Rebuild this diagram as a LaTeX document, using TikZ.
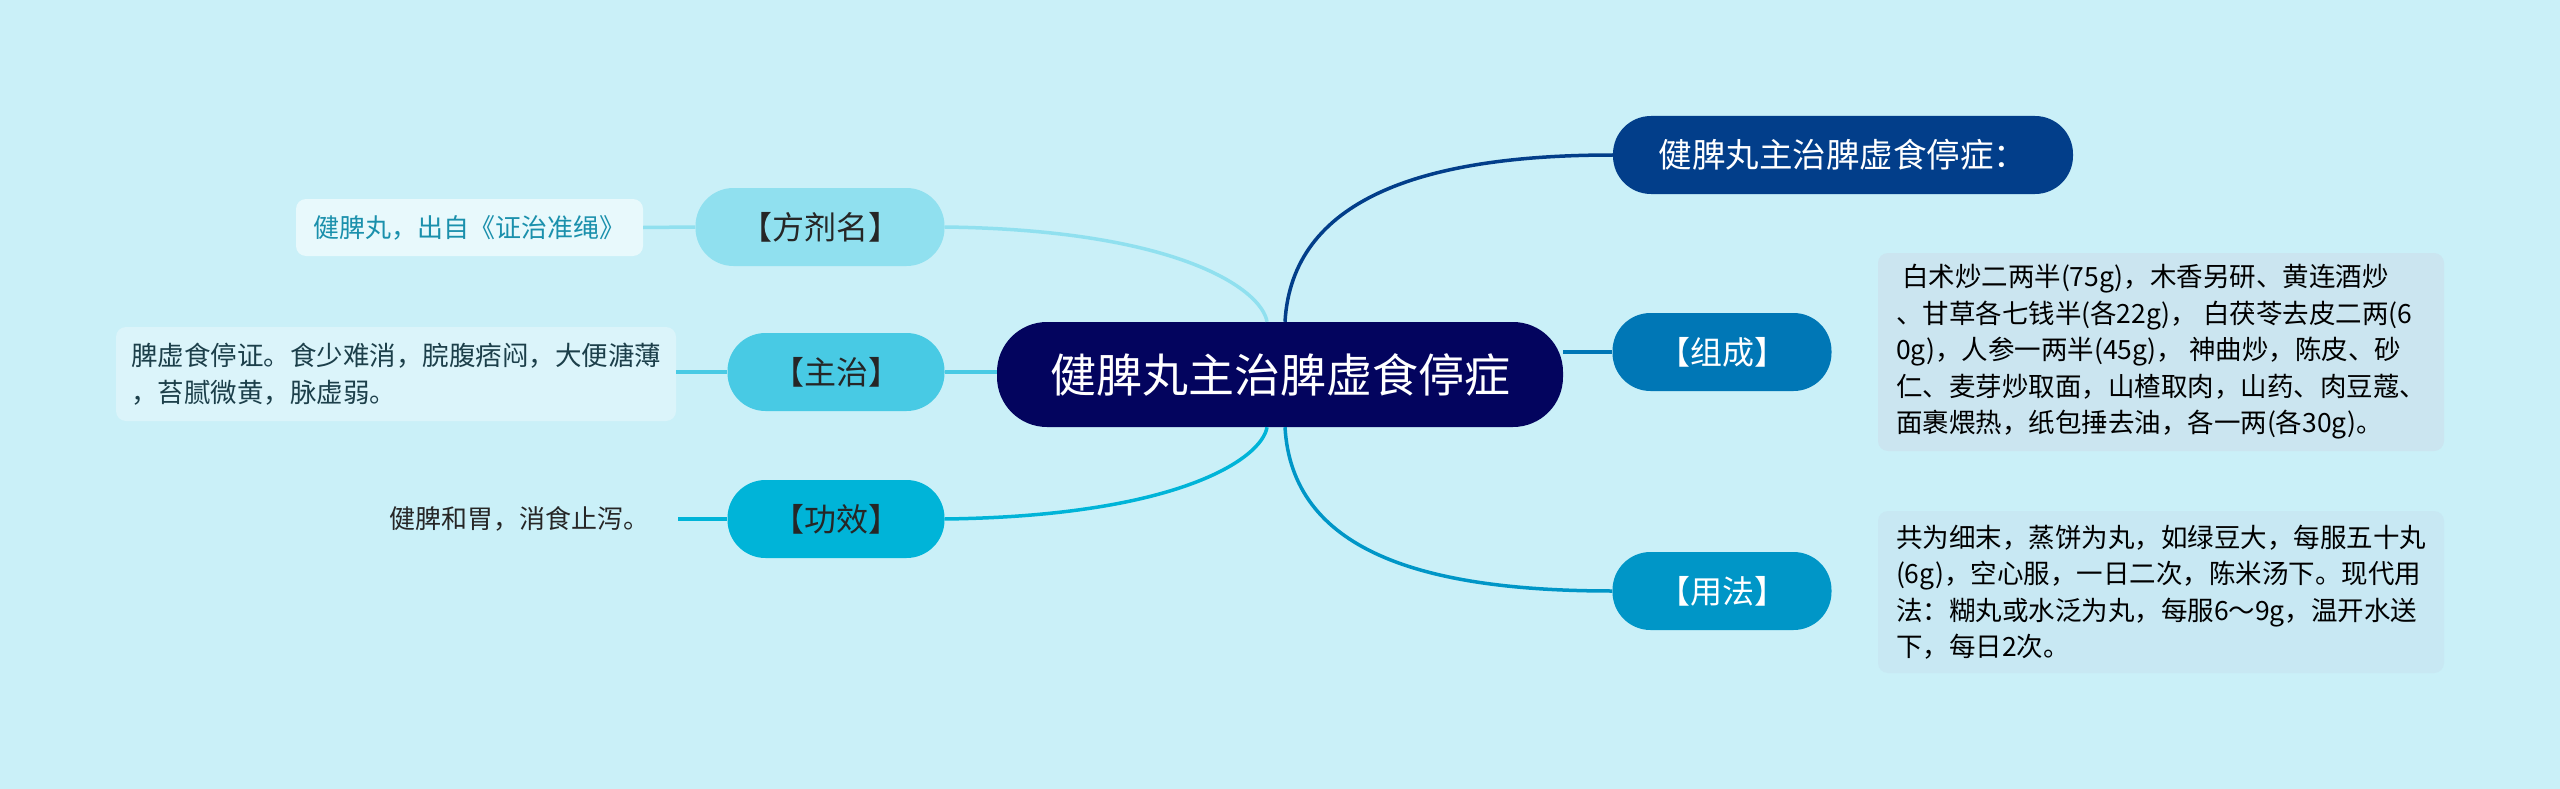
\documentclass[tikz,border=0pt]{standalone}
\usepackage{fontspec}
\newfontfamily\cjk{Noto Sans CJK SC}
\definecolor{bg}{HTML}{CAF0F8}
\definecolor{c0}{HTML}{03045E}
\definecolor{c1}{HTML}{023E8A}
\definecolor{c2}{HTML}{0077B6}
\definecolor{c3}{HTML}{0096C7}
\definecolor{c4}{HTML}{00B4D8}
\definecolor{c5}{HTML}{48CAE4}
\definecolor{c6}{HTML}{90E0EF}
\definecolor{boxA}{HTML}{E8F9FC}
\definecolor{boxB}{HTML}{DBF4FA}
\definecolor{boxC}{HTML}{CBE5F0}
\definecolor{boxD}{HTML}{C8E8F3}
\definecolor{txtA}{HTML}{1A90AC}
\definecolor{txtB}{HTML}{1C3F4A}
\tikzset{
  topic/.style={rounded corners=38pt, minimum height=78pt, inner sep=0pt, font=\cjk\fontsize{32}{38}\selectfont},
  leaf/.style={rounded corners=10pt, inner xsep=13pt, inner ysep=0pt, align=left, font=\cjk\fontsize{26.5}{36.5}\selectfont},
  link/.style={line width=3.5pt}
}
\begin{document}
\begin{tikzpicture}[x=1pt,y=-1pt]
\useasboundingbox[fill=bg] (0,0) rectangle (2560,789);

% central
\node[fill=c0, text=white, rounded corners=50pt, minimum width=566pt, minimum height=105pt, inner sep=0pt, font=\cjk\fontsize{46}{52}\selectfont] (c) at (1280,374.5) {健脾丸主治脾虚食停症};

% right topics
\node[topic, fill=c1, text=white, minimum width=460pt, font=\cjk\fontsize{33.5}{38}\selectfont] (n1) at (1843,155) {健脾丸主治脾虚食停症：};
\node[topic, fill=c2, text=white, minimum width=219pt] (zc) at (1722,352) {【组成】};
\node[topic, fill=c3, text=white, minimum width=219pt] (yf) at (1722,591) {【用法】};

% left topics
\node[topic, fill=c6, text=black!85, minimum width=249pt] (fj) at (820,227) {【方剂名】};
\node[topic, fill=c5, text=black!85, minimum width=217pt] (zz) at (836,372) {【主治】};
\node[topic, fill=c4, text=black!85, minimum width=217pt] (gx) at (836,519) {【功效】};

% leaves
\node[leaf, fill=boxC, text=black, minimum width=566pt, minimum height=198pt] (zcT) at (2161,352) {\hspace{6pt}白术炒二两半(75g)，木香另研、黄连酒炒\\、甘草各七钱半(各22g)， 白茯苓去皮二两(6\\0g)，人参一两半(45g)， 神曲炒，陈皮、砂\\仁、麦芽炒取面，山楂取肉，山药、肉豆蔻、\\面裹煨热，纸包捶去油，各一两(各30g)。};
\node[leaf, fill=boxD, text=black, minimum width=566pt, minimum height=162pt] (yfT) at (2161,592) {共为细末，蒸饼为丸，如绿豆大，每服五十丸\\(6g)，空心服，一日二次，陈米汤下。现代用\\法：糊丸或水泛为丸，每服6～9g，温开水送\\下，每日2次。};
\node[leaf, fill=boxA, text=txtA, minimum width=347pt, minimum height=57pt, font=\cjk\fontsize{26}{34}\selectfont] (fjT) at (469.5,227.5) {健脾丸，出自《证治准绳》};
\node[leaf, fill=boxB, text=txtB, minimum width=560pt, minimum height=94pt] (zzT) at (396,374) {脾虚食停证。食少难消，脘腹痞闷，大便溏薄\\，苔腻微黄，脉虚弱。};
\node[anchor=east, inner sep=0pt, text=black!85, font=\cjk\fontsize{26}{34}\selectfont] (gxT) at (650,519) {健脾和胃，消食止泻。};

% connectors
\draw[link, c1] ([xshift=5pt]c.north) .. controls (1292,200) and (1420,155) .. (n1.west);
\draw[link, c2] (c.east |- zc.west) -- (zc.west);
\draw[link, c3] ([xshift=5pt]c.south) .. controls (1292,550) and (1420,591) .. (yf.west);
\draw[link, c6] (fj.east) .. controls (1180,230) and (1262,290) .. ([xshift=-13pt]c.north);
\draw[link, c5] (zz.east) -- (c.west |- zz.east);
\draw[link, c4] (gx.east) .. controls (1180,516) and (1262,458) .. ([xshift=-13pt]c.south);
\draw[link, c6] (fjT.east) -- (fj.west);
\draw[link, c5] (zzT.east |- zz.west) -- (zz.west);
\draw[link, c4, shorten <=28pt] (gxT.east) -- (gx.west);
\end{tikzpicture}
\end{document}
